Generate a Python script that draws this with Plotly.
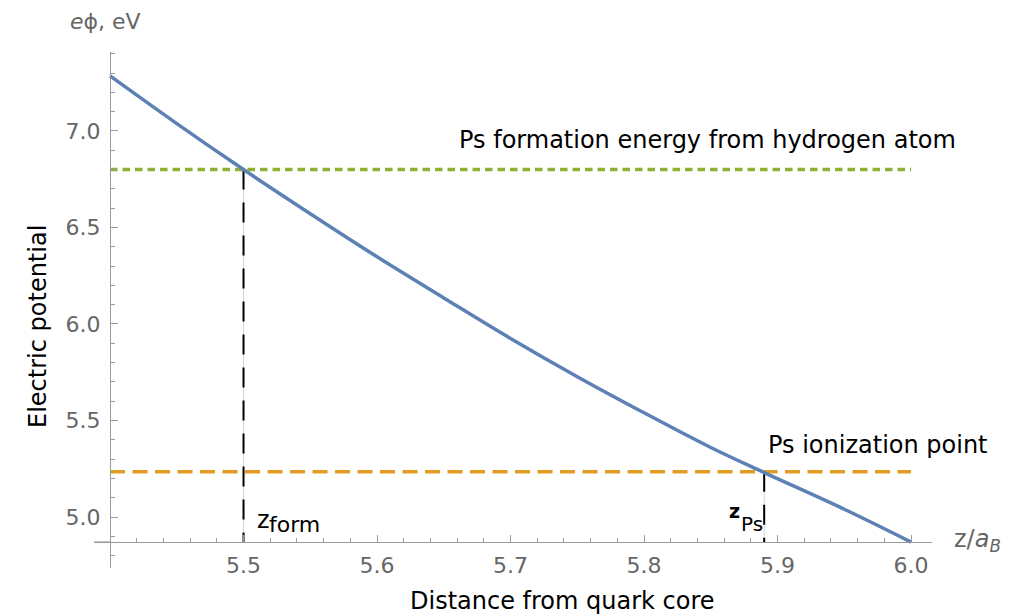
import plotly.graph_objects as go

# ---------------- data ----------------
z_curve = [5.40, 5.45, 5.50, 5.55, 5.60, 5.65, 5.70, 5.75, 5.80, 5.85, 5.89, 5.95, 6.00]
phi_curve = [7.285, 7.038, 6.800, 6.571, 6.348, 6.135, 5.925, 5.727, 5.540, 5.360, 5.230, 5.040, 4.870]

ps_formation_energy = 6.80
ps_ionization_energy = 5.235
z_form = 5.50
z_ps = 5.89

x_tick_vals = [5.5, 5.6, 5.7, 5.8, 5.9, 6.0]
x_tick_text = ["5.5", "5.6", "5.7", "5.8", "5.9", "6.0"]
y_tick_vals = [5.0, 5.5, 6.0, 6.5, 7.0]
y_tick_text = ["5.0", "5.5", "6.0", "6.5", "7.0"]

x_cross = 5.4
y_cross = 4.87
x_range = [5.388, 6.0157]
y_range = [4.7358, 7.409]

# ---------------- layout geometry ----------------
W, H = 1028, 615
ML, MR, MT, MB = 94, 96, 52, 47
PW, PH = W - ML - MR, H - MT - MB


def px(X):
    return (X - ML) / PW


def py(Y):
    return (H - MB - Y) / PH


FONT = "DejaVu Sans"
GRAY_TXT = "#666666"
AXIS_COL = "#9a9a9a"

fig = go.Figure()

# horizontal reference levels
fig.add_trace(go.Scatter(
    x=[z_curve[0], z_curve[-1]], y=[ps_formation_energy, ps_formation_energy],
    mode="lines", line=dict(color="#8FB032", width=3.5, dash="7.5px,5px"),
    hoverinfo="skip", showlegend=False))
fig.add_trace(go.Scatter(
    x=[z_curve[0], z_curve[-1]], y=[ps_ionization_energy, ps_ionization_energy],
    mode="lines", line=dict(color="#E19C24", width=3.5, dash="15px,7.5px"),
    hoverinfo="skip", showlegend=False))

# thin gray drop lines with black dashes
for zx, lvl in [(z_form, ps_formation_energy), (z_ps, ps_ionization_energy)]:
    fig.add_trace(go.Scatter(
        x=[zx, zx], y=[lvl, y_cross], mode="lines",
        line=dict(color="#d4d4d4", width=1), hoverinfo="skip", showlegend=False))
    fig.add_trace(go.Scatter(
        x=[zx, zx], y=[lvl, y_cross], mode="lines",
        line=dict(color="black", width=2, dash="20px,13px"),
        hoverinfo="skip", showlegend=False))

# potential curve
fig.add_trace(go.Scatter(
    x=z_curve, y=phi_curve, mode="lines",
    line=dict(color="#5E81B5", width=3.5, shape="spline"),
    showlegend=False))

fig.update_layout(
    width=W, height=H,
    margin=dict(l=ML, r=MR, t=MT, b=MB, pad=0),
    paper_bgcolor="white", plot_bgcolor="white",
    font=dict(family=FONT, size=22, color=GRAY_TXT),
    xaxis=dict(
        range=x_range, anchor="free", position=(y_cross - y_range[0]) / (y_range[1] - y_range[0]),
        showline=True, linecolor=AXIS_COL, linewidth=1.3,
        showgrid=False, zeroline=False,
        tickmode="array", tickvals=x_tick_vals, ticktext=x_tick_text,
        ticks="inside", ticklen=7, tickwidth=1, tickcolor=AXIS_COL,
        tickfont=dict(family=FONT, size=22, color=GRAY_TXT),
        ticklabelstandoff=3,
        minor=dict(tickmode="linear", tick0=5.4, dtick=0.02, ticks="inside",
                   ticklen=4, tickcolor=AXIS_COL, showgrid=False),
    ),
    yaxis=dict(
        range=y_range, anchor="free", position=(x_cross - x_range[0]) / (x_range[1] - x_range[0]),
        showline=True, linecolor=AXIS_COL, linewidth=1.3,
        showgrid=False, zeroline=False,
        tickmode="array", tickvals=y_tick_vals, ticktext=y_tick_text,
        ticks="inside", ticklen=7, tickwidth=1, tickcolor=AXIS_COL,
        tickfont=dict(family=FONT, size=22, color=GRAY_TXT),
        ticklabelstandoff=5,
        minor=dict(tickmode="linear", tick0=5.0, dtick=0.1, ticks="inside",
                   ticklen=4, tickcolor=AXIS_COL, showgrid=False),
    ),
)

# x-axis extension to the left of the crossing
fig.add_shape(type="line", xref="paper", yref="y",
              x0=0, x1=px(ML + 17), y0=y_cross, y1=y_cross,
              line=dict(color=AXIS_COL, width=1.3))

ann = []


def A(text, X, Y, size, color="black", xanchor="left", yanchor="middle", textangle=0):
    ann.append(dict(text=text, x=px(X), y=py(Y), xref="paper", yref="paper",
                    xanchor=xanchor, yanchor=yanchor, showarrow=False,
                    textangle=textangle,
                    font=dict(family=FONT, size=size, color=color)))


A("<i>e</i>ϕ, eV", 68, 22, 22, GRAY_TXT)
A("z/<i>a</i><sub><i>B</i></sub>", 952, 540, 24, GRAY_TXT)
A("Ps formation energy from hydrogen atom", 958, 140, 24, xanchor="right")
A("Ps ionization point", 990, 445, 24, xanchor="right")
A("Electric potential", 38, 327, 24, xanchor="center", textangle=-90)
A("Distance from quark core", 562, 601, 24, xanchor="center")
A("z", 255, 520, 24)
A("form", 267, 524, 22)
A("<b>z</b>", 727, 511, 19)
A("Ps", 739, 524, 20)

fig.update_layout(annotations=ann)

fig.write_html("out.html", config={"displayModeBar": False},
               post_script="document.body.style.margin='0';")
